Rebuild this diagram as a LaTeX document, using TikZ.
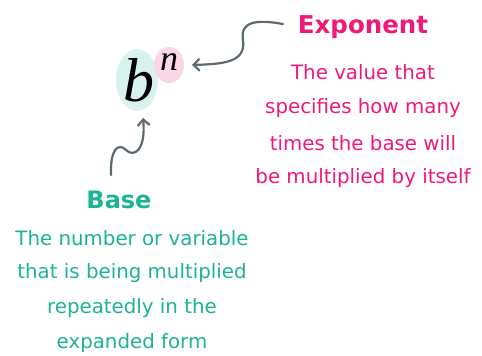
\documentclass[tikz,border=0pt]{standalone}
\usepackage{fontspec}
\setmainfont{DejaVu Sans}
\newfontfamily\mathserif{Liberation Serif}
\usetikzlibrary{arrows.meta}
\definecolor{pinkc}{HTML}{EE1A78}
\definecolor{tealc}{HTML}{1DB493}
\definecolor{pinkbg}{HTML}{FBD6E7}
\definecolor{tealbg}{HTML}{D8F3EE}
\definecolor{arrowc}{HTML}{5E6A72}
\tikzset{
  lbl/.style={inner sep=0pt, anchor=center},
  pinktxt/.style={lbl, text=pinkc, font=\fontsize{19.8}{22}\selectfont},
  tealtxt/.style={lbl, text=tealc, font=\fontsize{19.8}{22}\selectfont},
  conn/.style={draw=arrowc, line width=2.2pt, line cap=round, -{Straight Barb[length=6pt,width=12pt,line width=2.2pt]}}
}
\begin{document}
\begin{tikzpicture}[x=1pt,y=-1pt]
\useasboundingbox (0,0) rectangle (482,356);
\fill[tealbg] (137,80) ellipse [x radius=21, y radius=31];
\fill[pinkbg] (169,65) ellipse [x radius=15, y radius=18];
\node[lbl] (b) at (139,80) {\fontsize{62}{62}\selectfont\mathserif\itshape b};
\node[lbl] (n) at (169,62) {\fontsize{36}{36}\selectfont\mathserif\itshape n};
\coordinate (ntip) at (192,65);
\coordinate (btip) at (143,118);
\node[pinktxt, font=\fontsize{24.5}{28}\selectfont\bfseries] (exp) at (363,27) {Exponent};
\node[pinktxt] (e1) at (363,72) {The value that};
\node[pinktxt] (e2) at (363,108) {specifies how many};
\node[pinktxt] (e3) at (363,143) {times the base will};
\node[pinktxt] (e4) at (363,178) {be multiplied by itself};
\node[tealtxt, font=\fontsize{24}{28}\selectfont\bfseries] (base) at (119,200) {Base};
\node[tealtxt] (b1) at (132,238) {The number or variable};
\node[tealtxt] (b2) at (132,273) {that is being multiplied};
\node[tealtxt] (b3) at (132,308) {repeatedly in the};
\node[tealtxt] (b4) at (132,343) {expanded form};
\coordinate (es) at (283,24);
\coordinate (bs) at (111,175);
\draw[conn] (es) .. controls (255,19) and (240,22) .. (243,40) .. controls (246,62) and (225,64) .. (ntip);
\draw[conn] (bs) .. controls (110,150) and (118,142) .. (126,150) .. controls (134,158) and (146,150) .. (btip);
\end{tikzpicture}
\end{document}
